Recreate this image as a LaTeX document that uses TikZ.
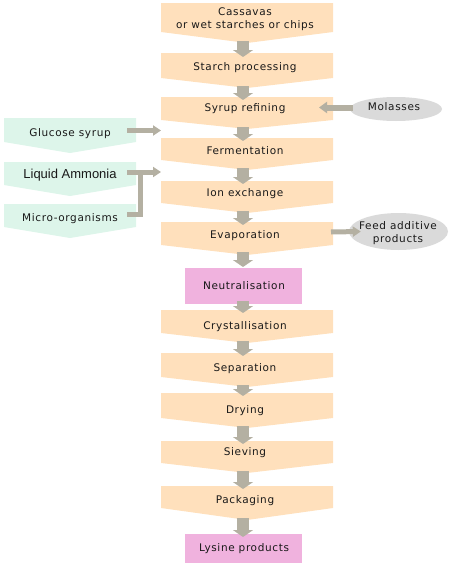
\documentclass[tikz,border=0pt]{standalone}
\usepackage{fontspec}
\usetikzlibrary{arrows.meta,shapes.geometric}
\newfontfamily\vf[LetterSpace=6]{DejaVu Sans}
\newfontfamily\af{Liberation Sans}
\definecolor{peach}{HTML}{FFE0BC}
\definecolor{mint}{HTML}{DDF5EA}
\definecolor{rosa}{HTML}{F0B2DE}
\definecolor{arr}{HTML}{B4B0A2}
\definecolor{ell}{HTML}{DADADA}
\newcommand\chevshape[7]{%
  \fill[#7] (#2,#4) -- (#3,#4) -- (#3,#5) -- ({(#2+#3)/2},#6) -- (#2,#5) -- cycle;
  \coordinate (#1-t) at (243,#4);
  \coordinate (#1-b) at (243,#6);}
\begin{document}
\begin{tikzpicture}[x=1pt,y=-1pt,
  lbl/.style={font=\vf\fontsize{10.5}{13}\selectfont, text=black!90, inner sep=0pt, align=center, text height=7.6pt, text depth=0pt},
  varrow/.style={draw=arr, line width=12pt, -{Triangle[width=20pt,length=7pt]}},
  sarrow/.style={draw=arr, line width=5pt, -{Triangle[width=10pt,length=8pt]}},
]
\useasboundingbox (0,0) rectangle (461,570);
% main column
\chevshape{c1}{161}{333}{3}{32}{43}{peach}
\chevshape{c2}{161}{333}{53}{78}{88}{peach}
\chevshape{c3}{161}{333}{97}{120}{129}{peach}
\chevshape{c4}{161}{333}{138}{160}{170}{peach}
\chevshape{c5}{161}{333}{181}{203}{213}{peach}
\chevshape{c6}{161}{333}{222}{245}{255}{peach}
\fill[rosa] (185,268) rectangle (302,304);
\coordinate (n-t) at (243,268); \coordinate (n-b) at (243,304);
\chevshape{c7}{161}{333}{310}{333}{343}{peach}
\chevshape{c8}{161}{333}{353}{377}{387}{peach}
\chevshape{c9}{161}{333}{393}{418}{428}{peach}
\chevshape{c10}{161}{333}{441}{463}{473}{peach}
\chevshape{c11}{161}{333}{486}{508}{520}{peach}
\fill[rosa] (185,534) rectangle (302,563);
\coordinate (l-t) at (243,534);
% left column
\chevshape{g1}{4}{136}{118}{142}{153}{mint}
\chevshape{g2}{4}{136}{162}{185}{196}{mint}
\chevshape{g3}{4}{136}{204}{227}{238}{mint}
% ellipses
\node[ellipse, fill=ell, minimum width=92pt, minimum height=24pt, inner sep=0pt] (mol) at (396,109) {};
\node[ellipse, fill=ell, minimum width=99pt, minimum height=37pt, inner sep=0pt] (feed) at (398.5,231.5) {};
% labels (two-line labels are placed by their last line)
\node[lbl] (t1) at (245,25) {Cassavas\\or wet starches or chips};
\node[lbl] (t2) at (245,67) {Starch processing};
\node[lbl] (t3) at (245,108) {Syrup refining};
\node[lbl] (t4) at (245,151) {Fermentation};
\node[lbl] (t5) at (245,193) {Ion exchange};
\node[lbl] (t6) at (245,235) {Evaporation};
\node[lbl] (tn) at (244,286) {Neutralisation};
\node[lbl] (t7) at (245,326) {Crystallisation};
\node[lbl] (t8) at (245,368) {Separation};
\node[lbl] (t9) at (245,410) {Drying};
\node[lbl] (t10) at (245,452) {Sieving};
\node[lbl] (t11) at (245,500) {Packaging};
\node[lbl] (tl) at (244,548) {Lysine products};
\node[lbl] (tg1) at (70,133) {Glucose syrup};
\node[lbl, font=\af\fontsize{13}{15}\selectfont, text height=9.3pt] (tg2) at (70,174) {Liquid Ammonia};
\node[lbl] (tg3) at (70,218) {Micro-organisms};
\node[lbl] (tm) at (394,107) {Molasses};
\node[lbl] (tf) at (398,239) {Feed additive\\products};
% vertical arrows
\draw[varrow] ([yshift=2pt]c1-b) -- ([yshift=-4pt]c2-t);
\draw[varrow] ([yshift=2pt]c2-b) -- ([yshift=-3pt]c3-t);
\draw[varrow] ([yshift=2pt]c3-b) -- ([yshift=-3pt]c4-t);
\draw[varrow] ([yshift=2pt]c4-b) -- ([yshift=-3pt]c5-t);
\draw[varrow] ([yshift=2pt]c5-b) -- ([yshift=-3pt]c6-t);
\draw[varrow] ([yshift=3pt]c6-b) -- ([yshift=1pt]n-t);
\draw[varrow] ([yshift=3pt]n-b) -- ([yshift=-3pt]c7-t);
\draw[varrow] ([yshift=2pt]c7-b) -- ([yshift=-3pt]c8-t);
\draw[varrow] ([yshift=2pt]c8-b) -- ([yshift=-3pt]c9-t);
\draw[varrow] ([yshift=2pt]c9-b) -- ([yshift=-3pt]c10-t);
\draw[varrow] ([yshift=2pt]c10-b) -- ([yshift=-3pt]c11-t);
\draw[varrow] ([yshift=2pt]c11-b) -- ([yshift=-3pt]l-t);
% side arrows
\coordinate (gs) at (127,130.5); \coordinate (ge) at (161,130.5);
\coordinate (as) at (127,172); \coordinate (ae) at (161,172);
\coordinate (ms) at (127,214); \coordinate (mj) at (140,214); \coordinate (aj) at (140,172);
\draw[sarrow] (gs) -- (ge);
\draw[sarrow] (as) -- (ae);
\draw[draw=arr, line width=5pt] (ms) -- (mj) -- ([yshift=2.5pt]aj);
\coordinate (me) at (319,107.5);
\draw[sarrow, line width=6pt, -{Triangle[width=11pt,length=8pt]}] (mol.west) ++(3,-1.5) -- (me);
\coordinate (fs) at (331,232);
\draw[sarrow] (fs) -- ([xshift=12pt]feed.west);
\end{tikzpicture}
\end{document}
